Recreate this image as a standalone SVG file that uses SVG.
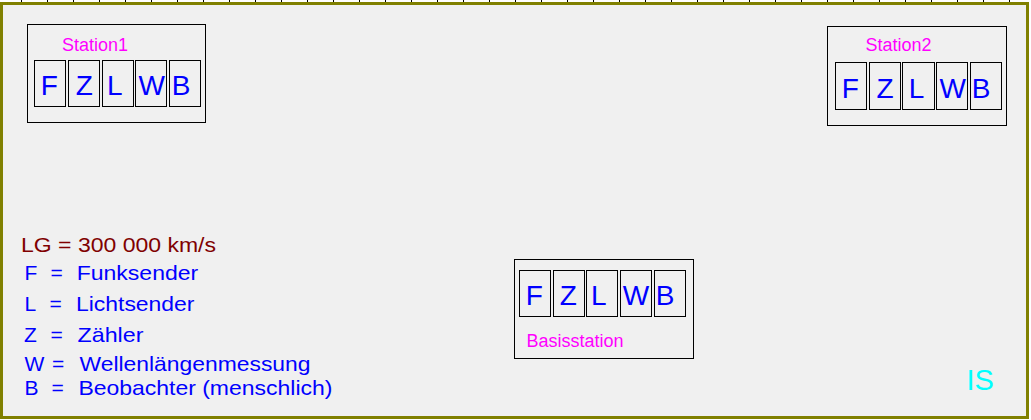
<svg xmlns="http://www.w3.org/2000/svg" width="1031" height="420" viewBox="0 0 1031 420">
<defs>
<style>
.frame{fill:#f0f0f0;stroke:#808000;stroke-width:3}
.box{fill:none;stroke:#000;stroke-width:1}
.cell{fill:none;stroke:#000;stroke-width:1}
.let{font-family:"Liberation Sans",Arial,sans-serif;font-size:28px;fill:#0000ff;text-anchor:middle}
.lab{font-family:"Liberation Sans",Arial,sans-serif;font-size:18px;fill:#ff00ff}
.leg{font-family:"Liberation Sans",Arial,sans-serif;font-size:21px;fill:#0000ff}
.lg{fill:#800000}
.is{font-family:"Liberation Sans",Arial,sans-serif;font-size:29px;fill:#00ffff}
</style>
</defs>
<rect x="0" y="0" width="1031" height="420" fill="#ffffff"/>
<path id="ticks" stroke="#000" stroke-width="1" d="M21.5 0V2M47.5 0V2M73.5 0V2M99.5 0V2M125.5 0V2M151.5 0V2M177.5 0V2M203.5 0V2M229.5 0V2M255.5 0V2M281.5 0V2M307.5 0V2M333.5 0V2M359.5 0V2M385.5 0V2M411.5 0V2M437.5 0V2M463.5 0V2M489.5 0V2M515.5 0V2M541.5 0V2M567.5 0V2M593.5 0V2M619.5 0V2M645.5 0V2M671.5 0V2M697.5 0V2M723.5 0V2M749.5 0V2M775.5 0V2M801.5 0V2M827.5 0V2M853.5 0V2M879.5 0V2M905.5 0V2M931.5 0V2M957.5 0V2M983.5 0V2M1009.5 0V2"/>
<rect class="frame" x="1.5" y="3.5" width="1026" height="414"/>

<g id="connectors"></g>

<g id="station1">
<rect class="box" x="27.5" y="24.5" width="178" height="98"/>
<text class="lab" x="62" y="51">Station1</text>
<rect class="cell" x="34.5" y="60.5" width="31" height="46"/>
<rect class="cell" x="68.5" y="60.5" width="31" height="46"/>
<rect class="cell" x="102.5" y="60.5" width="31" height="46"/>
<rect class="cell" x="135.5" y="60.5" width="31" height="46"/>
<rect class="cell" x="169.5" y="60.5" width="31" height="46"/>
<text class="let" x="49.2" y="95">F</text>
<text class="let" x="84.2" y="95">Z</text>
<text class="let" x="114.8" y="95">L</text>
<text class="let" x="151.7" y="95">W</text>
<text class="let" x="181" y="95">B</text>
</g>

<g id="station2">
<rect class="box" x="827.5" y="26.5" width="179" height="99"/>
<text class="lab" x="865.5" y="51">Station2</text>
<rect class="cell" x="835.5" y="62.5" width="31" height="47"/>
<rect class="cell" x="869.5" y="62.5" width="31" height="47"/>
<rect class="cell" x="902.5" y="62.5" width="32" height="47"/>
<rect class="cell" x="936.5" y="62.5" width="31" height="47"/>
<rect class="cell" x="970.5" y="62.5" width="31" height="47"/>
<text class="let" x="850.3" y="98.3">F</text>
<text class="let" x="885" y="98.3">Z</text>
<text class="let" x="916.5" y="98.3">L</text>
<text class="let" x="952.7" y="98.3">W</text>
<text class="let" x="981" y="98.3">B</text>
</g>

<g id="basisstation">
<rect class="box" x="514.5" y="259.5" width="179" height="99"/>
<rect class="cell" x="519.5" y="270.5" width="31" height="46"/>
<rect class="cell" x="553.5" y="270.5" width="31" height="46"/>
<rect class="cell" x="586.5" y="270.5" width="31" height="46"/>
<rect class="cell" x="620.5" y="270.5" width="31" height="46"/>
<rect class="cell" x="654.5" y="270.5" width="31" height="46"/>
<text class="let" x="534.2" y="305">F</text>
<text class="let" x="568.3" y="305">Z</text>
<text class="let" x="598.7" y="305">L</text>
<text class="let" x="636" y="305">W</text>
<text class="let" x="665" y="305">B</text>
<text class="lab" x="526.5" y="346.5">Basisstation</text>
</g>

<g id="legend">
<text class="leg lg" x="21" y="251.7" textLength="195" lengthAdjust="spacingAndGlyphs">LG = 300 000 km/s</text>
<text class="leg" x="24.5" y="279.5">F</text>
<text class="leg" x="50.5" y="279.5">=</text>
<text class="leg" x="76.7" y="279.5" textLength="121.5" lengthAdjust="spacingAndGlyphs">Funksender</text>
<text class="leg" x="24.5" y="311">L</text>
<text class="leg" x="49.5" y="311">=</text>
<text class="leg" x="76" y="311" textLength="118.5" lengthAdjust="spacingAndGlyphs">Lichtsender</text>
<text class="leg" x="24" y="341.7">Z</text>
<text class="leg" x="50.5" y="341.7">=</text>
<text class="leg" x="77.5" y="341.7" textLength="66" lengthAdjust="spacingAndGlyphs">Zähler</text>
<text class="leg" x="24.5" y="371">W</text>
<text class="leg" x="52" y="371">=</text>
<text class="leg" x="79.5" y="371" textLength="231" lengthAdjust="spacingAndGlyphs">Wellenlängenmessung</text>
<text class="leg" x="24.5" y="395">B</text>
<text class="leg" x="51.5" y="395">=</text>
<text class="leg" x="78.4" y="395" textLength="254" lengthAdjust="spacingAndGlyphs">Beobachter (menschlich)</text>
</g>

<g id="is-label">
<text class="is" x="966.5" y="390">IS</text>
</g>
</svg>
